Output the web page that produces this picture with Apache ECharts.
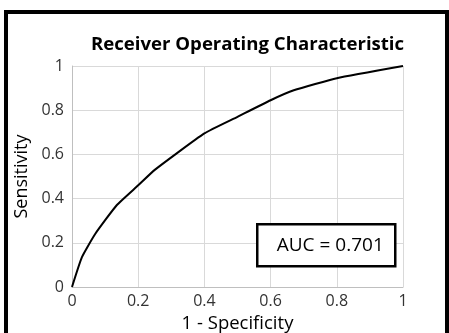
<!DOCTYPE html>
<html>
<head>
<meta charset="utf-8">
<script src="https://cdn.jsdelivr.net/npm/echarts@6/dist/echarts.min.js"></script>
<style>
  html, body { margin: 0; padding: 0; background: #fff; overflow: hidden; }
  #frame {
    position: absolute; left: 4px; top: 10px; width: 437px; height: 340px;
    border: 4px solid #000; box-sizing: content-box;
  }
  #chart { position: absolute; left: 0; top: 0; width: 449px; height: 333px; }
</style>
</head>
<body>
<div id="frame"></div>
<div id="chart"></div>
<script>
// ROC curve: false positive rate (1 - specificity) vs true positive rate
const fpr = [0, 0.03, 0.07, 0.135, 0.2, 0.25, 0.4, 0.5, 0.6, 0.67, 0.8, 1];
const tpr = [0, 0.135, 0.24, 0.37, 0.46, 0.53, 0.695, 0.77, 0.845, 0.89, 0.945, 1];
const aucValue = 0.701;
const titleText = 'Receiver Operating Characteristic';
const xName = '1 - Specificity';
const yName = 'Sensitivity';

const chart = echarts.init(document.getElementById('chart'), null, { renderer: 'canvas' });
const font = '"Open Sans", Lato, sans-serif';
const gridLeft = 72, gridRight = 46, gridTop = 66, gridBottom = 46;

chart.setOption({
  animation: false,
  title: {
    text: titleText, left: 86, top: 30,
    textStyle: { fontFamily: font, fontWeight: 'bold', fontSize: 18.6, color: '#000' }
  },
  grid: {
    left: gridLeft, right: gridRight, top: gridTop, bottom: gridBottom,
    containLabel: false, outerBoundsMode: 'none'
  },
  xAxis: {
    type: 'value', min: 0, max: 1, interval: 0.2,
    name: xName, nameLocation: 'middle', nameGap: 25,
    nameTextStyle: { fontFamily: font, fontSize: 18.5, color: '#000' },
    axisLine: { show: true, lineStyle: { color: '#bfbfbf', width: 1 } },
    axisTick: { show: false },
    axisLabel: { fontFamily: font, fontSize: 16, color: '#333', margin: 6 },
    splitLine: { show: true, lineStyle: { color: '#d9d9d9', width: 1 } }
  },
  yAxis: {
    type: 'value', min: 0, max: 1, interval: 0.2,
    name: yName, nameLocation: 'middle', nameGap: 37, nameRotate: 90,
    nameTextStyle: { fontFamily: font, fontSize: 18, color: '#000' },
    axisLine: { show: true, lineStyle: { color: '#bfbfbf', width: 1 } },
    axisTick: { show: false },
    axisLabel: { fontFamily: font, fontSize: 16, color: '#333', margin: 8 },
    splitLine: { show: true, lineStyle: { color: '#d9d9d9', width: 1 } }
  },
  series: [{
    type: 'line',
    data: fpr.map((x, i) => [x, tpr[i]]),
    showSymbol: false,
    smooth: 0.15,
    lineStyle: { color: '#000', width: 2 }
  }],
  graphic: [{
    type: 'group', left: 256, top: 223, z: 100,
    children: [
      { type: 'rect', z: 100, shape: { x: 0, y: 0, width: 138, height: 42 },
        style: { fill: '#fff', stroke: '#000', lineWidth: 2.5 } },
      { type: 'text', z: 101, x: 73, y: 21,
        style: { text: 'AUC = ' + aucValue.toFixed(3), fontFamily: font, fontSize: 19,
          fill: '#000', textAlign: 'center', textVerticalAlign: 'middle' } }
    ]
  }]
});
</script>
</body>
</html>
